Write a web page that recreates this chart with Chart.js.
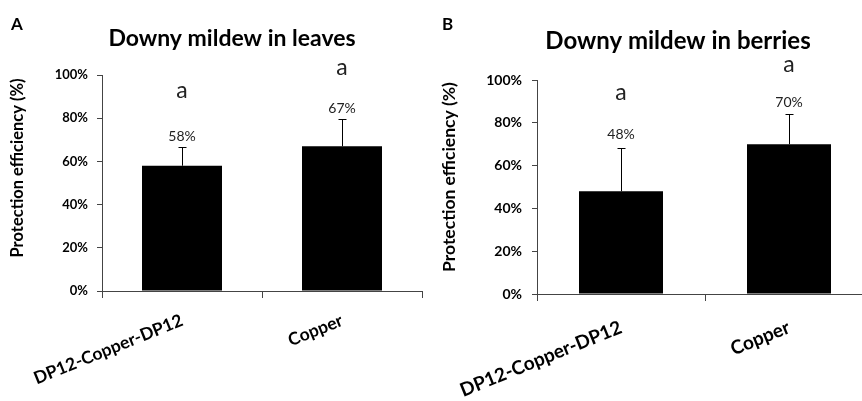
<!DOCTYPE html>
<html>
<head>
<meta charset="utf-8">
<script src="https://cdn.jsdelivr.net/npm/chart.js@4.4.1/dist/chart.umd.min.js"></script>
<style>
    html, body { margin: 0; padding: 0; background: #fff; overflow: hidden; }
    #wrap { position: relative; width: 862px; height: 401px; overflow: hidden; }
    #graficoA { position: absolute; left: 0; top: 0; }
    #graficoB { position: absolute; left: 431px; top: 0; }
</style>
</head>
<body>
<div id="wrap">
    <canvas id="graficoA" width="431" height="401"></canvas>
    <canvas id="graficoB" width="446" height="401"></canvas>
</div>
<script>
// Dados
const categorias = ['DP12-Copper-DP12', 'Copper'];
const folhasMedia = [58, 67];
const folhasErro = [8.5, 12.5];
const folhasLetras = ['a', 'a'];
const bagasMedia = [48, 70];
const bagasErro = [20, 14];
const bagasLetras = ['a', 'a'];
const yMin = 0;
const yMax = 100;
const yPasso = 20;

const FONTE = 'Lato, "Open Sans", sans-serif';

// desenha barras de erro, rotulos, letras, titulo e letra do painel
const anotacoes = {
    id: 'anotacoes',
    afterDatasetsDraw(chart, args, o) {
        const ctx = chart.ctx;
        const y = chart.scales.y;
        const meta = chart.getDatasetMeta(0);
        ctx.save();
        meta.data.forEach((bar, i) => {
            const topo = Math.round(y.getPixelForValue(o.media[i] + o.erro[i])) + 0.5;
            const xb = Math.round(bar.x) + 0.5;
            ctx.strokeStyle = '#000';
            ctx.lineWidth = 1;
            ctx.beginPath();
            ctx.moveTo(xb, bar.y);
            ctx.lineTo(xb, topo);
            ctx.moveTo(xb - 4, topo);
            ctx.lineTo(xb + 4, topo);
            ctx.stroke();

            ctx.fillStyle = '#222';
            ctx.textAlign = 'center';
            ctx.textBaseline = 'alphabetic';
            ctx.font = o.fonteValor;
            const yValor = topo - o.gapValor[i];
            ctx.fillText(o.media[i] + '%', bar.x, yValor);
            ctx.font = o.fonteLetra;
            ctx.fillText(o.letras[i], bar.x, yValor - o.gapLetra[i]);
        });

        // titulo
        ctx.fillStyle = '#000';
        ctx.textAlign = 'center';
        ctx.font = o.fonteTitulo;
        ctx.fillText(o.titulo, o.tituloX, o.tituloY);

        // letra do painel
        ctx.textAlign = 'left';
        ctx.font = o.fontePainel;
        ctx.fillText(o.painel, 11, 30);

        // titulo do eixo y
        ctx.translate(o.eixoYX, o.eixoYY);
        ctx.rotate(-Math.PI / 2);
        ctx.textAlign = 'center';
        ctx.textBaseline = 'middle';
        ctx.font = o.fonteEixo;
        ctx.fillText('Protection efficiency (%)', 0, 0);
        ctx.restore();
    }
};

function criarGrafico(id, media, cfg) {
    const ctx = document.getElementById(id).getContext('2d');
    return new Chart(ctx, {
        type: 'bar',
        data: {
            labels: categorias,
            datasets: [{
                data: media,
                backgroundColor: '#000',
                borderWidth: 0,
                barPercentage: 0.5,
                categoryPercentage: 1
            }]
        },
        options: {
            responsive: false,
            animation: false,
            layout: {
                padding: { top: cfg.topo, left: 0, right: cfg.direita, bottom: 0 }
            },
            scales: {
                x: {
                    afterFit: (s) => {
                        s.height = cfg.alturaX;
                        // os rotulos inclinados nao devem empurrar a area do grafico
                        s.paddingLeft = 0;
                        s.paddingRight = 0;
                    },
                    grid: {
                        offset: true,
                        drawOnChartArea: false,
                        tickLength: 7,
                        color: '#444'
                    },
                    border: { color: '#444', width: 1 },
                    ticks: {
                        minRotation: 22,
                        maxRotation: 22,
                        padding: cfg.padX,
                        color: '#000',
                        font: { family: FONTE, size: cfg.fonteX, weight: 'bold' }
                    }
                },
                y: {
                    min: yMin,
                    max: yMax,
                    afterFit: (s) => { s.width = cfg.larguraY; },
                    grid: {
                        drawOnChartArea: false,
                        tickLength: 5,
                        color: '#444'
                    },
                    border: { color: '#444', width: 1 },
                    ticks: {
                        stepSize: yPasso,
                        padding: cfg.padY,
                        color: '#000',
                        font: { family: FONTE, size: cfg.fonteY, weight: 'bold' },
                        callback: (v) => v + '%'
                    }
                }
            },
            plugins: {
                legend: { display: false },
                tooltip: { enabled: false },
                anotacoes: cfg.anot
            }
        },
        plugins: [anotacoes]
    });
}

document.addEventListener('DOMContentLoaded', () => {
    window.graficoA = criarGrafico('graficoA', folhasMedia, {
        topo: 75, direita: 9, alturaX: 110, larguraY: 102,
        padX: 12, padY: 9, fonteX: 17.5, fonteY: 13,
        anot: {
            media: folhasMedia, erro: folhasErro, letras: folhasLetras,
            gapValor: [7, 7], gapLetra: [43, 38],
            fonteValor: '14px ' + FONTE,
            fonteLetra: '23px ' + FONTE,
            titulo: 'Downy mildew in leaves', tituloX: 232, tituloY: 46,
            fonteTitulo: 'bold 23px ' + FONTE,
            painel: 'A', fontePainel: 'bold 17px ' + FONTE,
            eixoYX: 18, eixoYY: 168, fonteEixo: 'bold 16.5px ' + FONTE
        }
    });

    window.graficoB = criarGrafico('graficoB', bagasMedia, {
        topo: 80, direita: 4, alturaX: 107, larguraY: 106,
        padX: 15, padY: 10, fonteX: 19, fonteY: 14,
        anot: {
            media: bagasMedia, erro: bagasErro, letras: bagasLetras,
            gapValor: [10, 8], gapLetra: [39, 35],
            fonteValor: '14px ' + FONTE,
            fonteLetra: '23px ' + FONTE,
            titulo: 'Downy mildew in berries', tituloX: 247, tituloY: 49,
            fonteTitulo: 'bold 24px ' + FONTE,
            painel: 'B', fontePainel: 'bold 17px ' + FONTE,
            eixoYX: 18, eixoYY: 177, fonteEixo: 'bold 17.5px ' + FONTE
        }
    });
});
</script>
</body>
</html>
